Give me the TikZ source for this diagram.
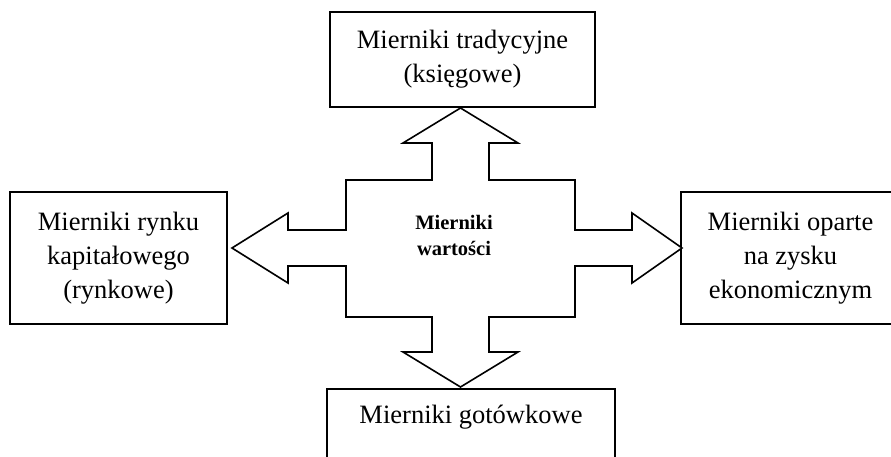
\documentclass[tikz,border=0pt]{standalone}
\usepackage{fontspec}
\setmainfont{Liberation Serif}
\begin{document}
\begin{tikzpicture}[x=1pt, y=-1pt,
    box/.style={draw, line width=1.6pt, inner sep=0pt, align=center,
      font=\fontsize{26.5}{34}\selectfont},
    cross/.style={draw, line width=1.6pt, line join=miter, fill=white}]

  \path[use as bounding box, clip] (0, 0) rectangle (891, 457);

  % the four kinds of measures
  \node[box, minimum width=265pt, minimum height=95pt] (tradycyjne) at (462.5, 59.5)
    {Mierniki tradycyjne\\(księgowe)};
  \node[box, minimum width=217pt, minimum height=132pt] (rynkowe) at (118.5, 258)
    {Mierniki rynku\\kapitałowego\\(rynkowe)};
  \node[box, minimum width=219pt, minimum height=132pt] (ekonomiczne) at (790.5, 258)
    {Mierniki oparte\\na zysku\\ekonomicznym};
  \node[box, anchor=north, minimum width=288pt, text height=35pt, text depth=100pt]
    (gotowkowe) at (471, 388) {Mierniki gotówkowe};

  % four-way arrow
  \draw[cross] (460.5, 108) -- (518, 143) -- (489, 143) -- (489, 180)
    -- (575, 180) -- (575, 230) -- (632, 230) -- (632, 213) -- (682, 248)
    -- (632, 283) -- (632, 266) -- (575, 266) -- (575, 317) -- (489, 317)
    -- (489, 352) -- (518, 352) -- (460.5, 387) -- (403, 352) -- (432, 352)
    -- (432, 317) -- (346, 317) -- (346, 266) -- (288, 266) -- (288, 283)
    -- (232, 248) -- (288, 213) -- (288, 230) -- (346, 230) -- (346, 180)
    -- (432, 180) -- (432, 143) -- (403, 143) -- cycle;

  \node[align=center, inner sep=0pt, font=\fontsize{20.5}{26}\selectfont\bfseries]
    (wartosci) at (454, 235) {Mierniki\\wartości};

\end{tikzpicture}
\end{document}
